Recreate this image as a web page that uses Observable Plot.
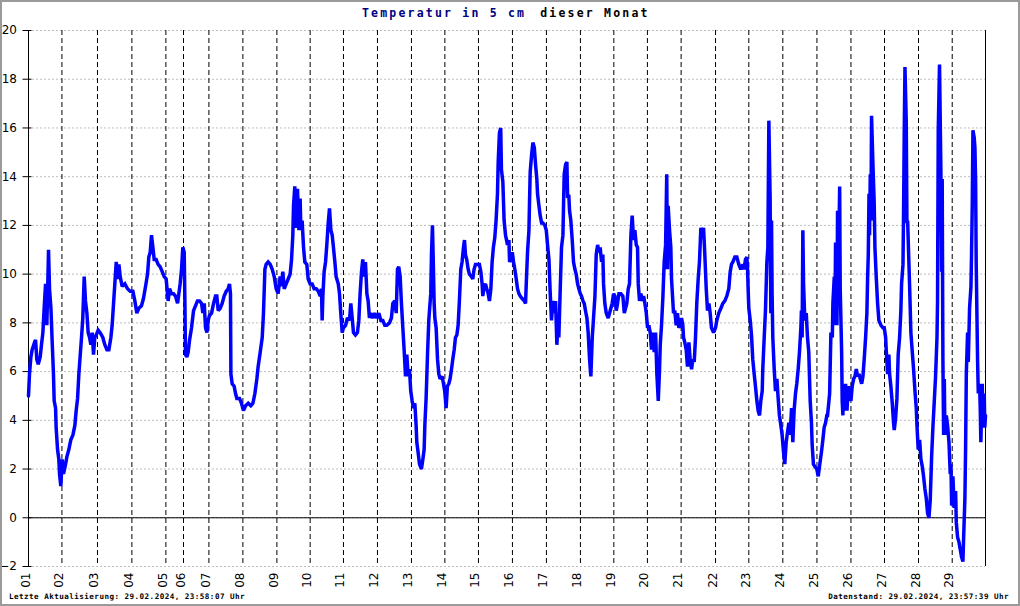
<!DOCTYPE html>
<html><head><meta charset="utf-8">
<script src="https://cdn.jsdelivr.net/npm/d3@7"></script>
<script src="https://cdn.jsdelivr.net/npm/@observablehq/plot@0.6"></script>
<style>
html,body{margin:0;padding:0;background:#fff;}
#wrap{position:relative;width:1020px;height:606px;overflow:hidden;background:#fff;}
#frame{position:absolute;left:0;top:0;width:1020px;height:606px;box-sizing:border-box;border:2px solid #9a9a9a;pointer-events:none;}
#title{position:absolute;left:362px;top:6px;font:bold 11.5px "DejaVu Sans Mono";letter-spacing:2.2px;white-space:pre;line-height:14px;color:#000;}
.foot{position:absolute;top:592px;font:bold 7.6px "DejaVu Sans Mono";letter-spacing:0.45px;white-space:pre;line-height:10px;color:#000;}
#chart svg{display:block;}
</style>
</head><body>
<div id="wrap">
  <div id="chart"></div>
  <div id="title"></div>
  <div class="foot" id="footL" style="left:9px"></div>
  <div class="foot" id="footR" style="right:11px"></div>
  <div id="frame"></div>
</div>
<script>
// ---- data ----
const titleMain = "Temperatur in 5 cm";
const titleSub = "dieser Monat";
const footerLeft = "Letzte Aktualisierung: 29.02.2024, 23:58:07 Uhr";
const footerRight = "Datenstand: 29.02.2024, 23:57:39 Uhr";

const dayLabels = ["01","02","03","04","05","06","07","08","09","10","11","12","13","14","15","16","17","18","19","20","21","22","23","24","25","26","27","28","29"];
// start of each day on the data-hour axis (day 5 and 6 have fewer readings)
const dayStarts = [0,23.7,48.9,73.3,97.4,109.9,127.9,152.0,176.1,199.7,223.3,247.4,271.5,295.2,319.0,343.1,367.2,391.3,415.0,438.8,462.7,487.1,510.7,534.8,559.0,583.1,606.9,631.0,654.9];
const endHour = 678.5;
const yTicks = [-2,0,2,4,6,8,10,12,14,16,18,20];

const hours = [
0.0,0.7,1.7,2.6,4.3,5.0,5.9,6.9,8.3,9.2,10.2,11.1,12.1,13.0,13.5,14.2,14.9,15.9,16.8,17.7,18.2,19.2,19.6,20.6,21.5,22.0,22.9,23.9,24.8,26.3,27.2,28.6,30.0,31.5,32.9,33.8,34.8,35.7,36.7,37.6,38.5,39.5,40.4,41.4,42.3,43.3,44.2,45.2,46.1,47.0,48.0,49.4,50.8,52.7,54.1,55.6,57.0,58.4,59.3,60.3,61.2,62.2,63.1,64.1,65.0,66.4,68.3,70.2,72.1,74.0,75.4,76.8,78.2,80.1,81.5,83.0,84.4,85.3,86.3,87.2,88.2,89.1,90.5,91.9,93.4,94.8,96.2,97.6,99.0,100.0,101.4,102.8,104.2,105.7,106.6,107.5,108.5,109.4,110.4,110.9,111.3,112.3,113.2,
114.2,115.6,117.0,118.4,119.8,121.3,122.7,123.6,124.6,125.5,126.5,127.4,128.3,129.8,131.2,132.6,133.5,134.5,135.9,137.3,138.7,140.2,141.6,142.5,143.2,143.5,144.4,145.8,146.8,147.7,149.6,151.0,152.4,153.9,155.8,157.6,159.1,160.5,161.9,162.8,164.3,165.7,166.6,167.6,168.5,169.9,171.4,172.8,174.2,175.6,177.0,178.4,179.4,180.3,181.3,182.7,184.1,185.5,186.5,187.4,187.9,188.8,189.8,190.7,191.7,192.6,193.1,194.0,195.0,195.9,197.3,198.3,199.7,201.1,202.5,204.0,205.4,206.8,207.7,208.2,208.7,209.6,210.6,211.5,212.5,213.4,214.4,215.3,216.2,217.2,218.1,219.6,220.5,221.4,222.4,223.3,224.8,
226.1,227.6,228.5,229.5,230.4,231.8,233.2,234.2,235.1,236.1,237.0,238.0,238.9,239.9,240.8,241.7,242.7,244.1,245.5,246.9,248.4,249.8,251.2,252.6,254.0,255.9,257.3,258.3,259.7,260.7,261.6,262.5,263.5,264.4,265.4,266.3,267.3,268.2,269.2,270.1,271.0,272.0,272.9,273.9,274.8,275.3,276.2,277.2,278.6,279.6,280.5,281.0,281.9,282.9,283.8,284.3,285.2,285.7,286.4,287.1,287.6,288.1,289.0,290.0,290.9,291.8,293.3,294.2,295.1,296.1,297.0,298.0,298.9,299.9,300.8,301.8,302.7,303.7,304.6,305.5,306.5,307.4,308.4,309.1,309.8,310.7,311.7,312.6,314.1,315.0,315.9,316.9,318.3,319.7,320.7,321.6,322.1,323.0,324.0,324.9,325.9,326.8,327.8,328.7,329.6,330.6,331.5,332.5,333.0,333.9,334.8,335.3,336.3,337.2,338.2,339.6,
340.6,341.1,342.0,343.0,343.9,344.8,345.8,346.7,347.7,348.6,350.0,351.5,352.4,352.9,353.8,354.8,355.2,355.7,356.7,357.6,358.6,359.5,360.4,360.9,361.9,362.8,363.8,364.7,366.1,367.1,368.0,369.0,369.9,370.8,371.8,372.7,373.7,374.6,375.6,376.0,377.0,377.9,378.9,379.8,380.8,381.7,382.2,383.1,383.6,384.5,385.5,386.4,387.4,388.3,389.3,390.2,391.2,392.1,393.1,394.0,394.9,395.9,396.8,397.8,398.7,399.7,400.6,401.6,402.5,403.5,404.4,405.3,406.3,407.2,407.7,408.6,409.6,411.0,412.4,413.8,414.8,415.7,416.7,417.6,418.6,420.0,421.4,422.4,423.3,424.2,425.2,426.1,427.1,428.0,429.0,429.9,430.9,431.8,432.3,433.2,434.2,435.1,436.1,437.0,438.0,438.9,439.8,440.8,441.7,442.7,443.6,444.6,445.5,446.5,447.4,447.9,448.8,449.8,450.7,451.7,452.5,
453.0,453.5,454.5,455.4,455.9,456.8,457.3,458.2,459.2,460.1,461.1,462.0,463.0,463.9,464.4,465.3,466.3,467.2,468.2,469.1,470.1,471.0,472.0,472.9,473.8,474.8,475.7,476.7,477.6,478.6,479.5,480.5,481.4,482.4,483.3,484.2,485.7,487.1,488.0,489.4,490.9,492.3,493.7,495.1,496.5,497.5,498.4,499.4,500.8,502.2,503.6,505.0,506.5,507.4,508.3,509.3,509.8,510.2,510.7,511.7,512.6,513.5,514.5,515.4,516.4,517.3,518.3,519.2,520.2,520.6,521.6,522.5,523.5,524.2,524.9,525.8,526.3,526.8,527.2,527.7,528.7,529.6,530.6,531.5,532.4,533.4,534.3,535.3,536.2,537.2,538.1,539.1,540.0,541.0,541.9,542.8,543.8,544.7,545.7,546.6,547.6,548.0,548.5,549.0,549.5,550.4,551.4,552.3,553.2,554.2,555.1,555.6,556.5,557.5,558.9,559.9,560.8,562.2,563.2,564.1,565.1,566.0,
566.5,567.5,568.0,568.9,569.9,570.3,571.3,571.7,572.2,573.2,573.6,574.1,575.1,575.5,576.5,576.9,577.4,577.9,578.4,579.3,580.3,581.2,582.1,583.1,584.0,585.0,585.9,586.9,587.8,588.8,589.7,590.7,591.6,592.5,593.5,594.4,594.9,595.4,595.9,596.3,596.8,597.3,597.7,598.7,599.6,600.1,601.1,602.0,602.9,604.4,605.8,606.7,607.7,608.1,608.6,609.1,610.0,610.5,611.4,612.4,613.3,613.8,614.8,615.7,616.6,617.6,618.5,619.0,620.0,620.4,620.9,621.4,622.3,622.8,623.3,623.7,624.7,625.6,626.6,627.5,628.5,629.4,629.9,630.8,631.8,632.7,633.7,634.6,635.5,636.5,637.4,638.4,639.3,640.3,641.2,642.2,643.1,644.1,644.5,645.0,645.9,646.9,647.4,647.8,648.3,648.8,649.3,649.7,650.7,651.6,652.6,653.5,654.0,654.5,655.4,656.3,657.3,657.8,658.7,659.7,660.6,661.5,662.5,663.0,663.9,664.4,664.9,665.8,666.3,667.2,668.2,668.6,669.1,669.6,670.5,671.0,671.5,671.9,672.9,673.4,674.3,674.8,675.2,676.2,676.7,677.6,678.0,678.5
];
const temps = [
5.0,5.9,6.6,6.9,7.2,7.3,6.5,6.3,6.6,7.1,7.6,8.6,9.6,7.9,9.1,11.0,9.4,8.6,7.2,5.9,4.8,4.5,3.7,2.8,2.4,1.8,1.3,2.4,1.8,2.2,2.5,2.8,3.2,3.4,3.8,4.4,4.9,5.9,6.7,7.4,8.2,9.9,8.9,8.4,7.6,7.4,7.1,7.6,6.7,7.4,7.5,7.7,7.6,7.4,7.1,6.9,6.9,7.4,7.9,8.8,9.6,10.5,9.8,10.4,9.9,9.5,9.6,9.4,9.3,9.3,8.9,8.4,8.6,8.7,9.0,9.5,10.0,10.7,10.9,11.6,11.1,10.6,10.6,10.4,10.3,10.1,9.9,9.8,8.9,9.4,9.2,9.2,9.1,8.8,9.2,9.6,10.2,11.1,10.9,8.8,6.7,6.6,6.8,
7.3,7.8,8.5,8.7,8.9,8.9,8.8,8.4,8.8,7.8,7.6,8.1,8.3,8.4,8.8,9.1,9.1,8.5,8.6,8.8,9.1,9.3,9.4,9.6,9.2,5.9,5.5,5.4,5.1,4.9,4.9,4.7,4.4,4.6,4.7,4.6,4.7,5.1,5.7,6.2,6.8,7.4,8.4,10.2,10.4,10.5,10.4,10.2,9.9,9.4,9.2,9.9,9.5,10.1,9.4,9.6,9.8,10.0,10.6,11.6,12.8,13.6,11.9,13.5,11.8,13.1,11.8,12.2,11.1,10.5,10.4,9.8,9.6,9.6,9.4,9.4,9.3,9.1,9.4,8.1,9.1,10.1,10.5,11.2,12.1,12.7,11.8,11.6,11.1,10.5,9.9,9.6,9.2,8.4,7.6,7.8,7.9,
8.2,8.1,8.8,8.2,7.6,7.5,7.6,8.1,9.2,10.1,10.6,9.9,10.5,9.2,8.9,8.2,8.4,8.2,8.4,8.2,8.4,8.1,8.1,7.9,7.9,8.0,8.2,8.8,8.9,8.4,10.2,10.3,9.9,8.8,7.8,6.9,5.8,6.7,5.8,6.1,5.2,4.8,4.5,4.7,3.8,3.1,2.7,2.2,2.0,2.4,2.8,3.8,4.9,6.7,8.1,8.5,9.2,10.8,12.0,10.2,8.8,8.2,7.8,6.5,5.9,5.7,5.8,5.5,5.2,4.5,5.4,5.5,5.7,6.1,6.5,6.9,7.4,7.5,7.9,8.9,10.2,10.5,11.1,11.4,10.8,10.6,10.2,10.0,9.9,9.8,10.2,10.4,10.4,10.4,10.1,9.6,9.1,9.5,9.6,9.4,9.2,8.9,9.4,10.5,11.1,11.5,12.2,13.3,14.6,15.8,16.0,14.3,13.8,12.2,11.6,11.2,
11.4,10.5,10.6,10.9,10.5,10.2,9.8,9.4,9.2,9.1,9.0,8.9,8.8,9.6,10.9,11.8,12.9,14.2,14.9,15.4,15.2,14.5,13.9,13.3,12.8,12.4,12.1,12.1,12.0,11.8,11.2,10.6,9.2,8.1,8.9,8.4,8.9,7.1,8.1,7.4,9.4,11.1,11.6,14.1,14.5,14.6,13.2,13.2,12.6,12.2,11.4,10.5,10.2,10.0,9.6,9.4,9.2,9.1,8.9,8.8,8.5,8.2,7.6,6.5,5.8,7.4,8.2,9.1,10.8,11.2,10.9,11.1,10.5,10.8,9.6,8.8,8.4,8.2,8.5,8.8,9.2,9.1,8.5,8.8,9.2,9.2,9.1,8.4,8.6,8.8,9.4,9.6,11.6,12.4,11.4,11.8,11.2,11.1,9.6,8.9,9.2,8.9,9.1,8.8,8.4,7.8,7.9,7.6,6.9,7.6,6.8,7.6,5.9,4.8,6.1,7.1,7.9,9.1,10.5,11.2,14.1,
10.2,12.8,11.8,11.1,9.8,8.9,8.4,8.5,7.9,8.4,7.8,7.9,8.2,7.9,7.4,7.2,6.9,6.2,7.2,6.5,6.1,6.5,6.4,7.4,8.8,9.8,10.5,11.9,11.6,11.9,10.8,9.4,8.5,8.8,8.4,7.8,7.6,7.8,8.1,8.4,8.6,8.8,8.9,9.1,9.4,10.1,10.4,10.5,10.7,10.7,10.4,10.2,10.4,10.2,10.6,10.7,10.2,9.4,8.6,8.1,7.5,6.5,5.9,5.4,4.8,4.4,4.2,4.8,5.2,6.1,7.4,8.5,10.5,11.1,16.3,13.1,8.4,12.2,9.2,7.4,6.1,5.2,5.7,4.9,4.2,3.8,3.4,2.7,2.2,3.1,3.5,3.9,3.4,4.5,3.1,4.4,5.1,5.5,6.1,6.8,7.8,8.5,7.4,11.8,9.6,8.1,8.4,7.4,6.8,4.8,3.9,3.0,2.2,2.1,2.0,1.7,2.1,2.7,3.2,3.7,3.9,4.2,
4.2,4.8,5.1,7.6,7.4,8.8,9.9,7.9,11.3,7.9,12.6,9.5,13.6,9.4,6.8,4.8,4.2,5.4,4.4,5.5,4.4,5.4,5.1,4.8,5.4,5.7,5.8,6.1,5.8,5.9,5.7,5.5,5.8,6.5,7.4,8.4,9.8,10.8,13.3,11.6,14.1,12.2,16.5,14.5,12.9,11.1,9.8,8.8,8.1,7.9,7.8,7.8,7.4,6.9,6.4,5.9,6.7,5.9,5.4,4.7,3.9,3.6,4.1,4.9,6.7,7.4,8.5,9.6,10.4,12.5,15.9,18.5,16.3,12.1,12.2,11.4,9.5,7.6,6.8,6.1,5.2,4.5,3.8,2.8,3.2,2.4,2.1,1.7,1.2,0.8,0.2,0.0,0.7,2.5,3.7,4.8,5.8,7.4,8.9,15.9,18.6,14.1,10.1,13.9,6.5,3.4,5.7,3.4,4.2,3.8,3.1,1.8,2.2,0.5,1.7,0.4,1.1,-0.2,-0.8,-1.0,-1.3,-1.6,-1.8,-0.8,0.8,2.9,5.9,7.6,6.4,8.6,9.5,10.8,12.8,15.9,15.6,15.2,13.8,10.5,6.4,5.1,5.5,4.4,3.1,5.5,3.7,5.1,3.7,4.2
];

const series = hours.map((h, i) => ({h, t: temps[i]}));
const days = dayStarts.map((s, i) => ({s, label: dayLabels[i]}));

const font = "DejaVu Sans";
const chart = Plot.plot({
  width: 1020,
  height: 606,
  marginTop: 30,
  marginBottom: 40,
  marginLeft: 28,
  marginRight: 35,
  style: {background: "white", color: "black", fontFamily: font},
  x: {domain: [0, endHour], axis: null},
  y: {domain: [-2, 20]},
  marks: [
    Plot.ruleY(yTicks, {stroke: "#bdbdbd", strokeDasharray: "2,2"}),
    Plot.ruleX(dayStarts.slice(1), {stroke: "black", strokeDasharray: "5,3"}),
    Plot.ruleY([0], {stroke: "black"}),
    Plot.ruleX([0, endHour], {stroke: "black"}),
    Plot.axisY({ticks: yTicks, tickSize: 9, dx: 3.5, tickPadding: 6, fontSize: 12, fontFamily: font, label: null, stroke: "black", fill: "black"}),
    Plot.text(days, {x: "s", frameAnchor: "bottom", text: "label", rotate: -90, textAnchor: "end", dy: 6, dx: 1, fontSize: 12, fontFamily: font, fill: "black"}),
    Plot.line(series, {x: "h", y: "t", stroke: "#0000ff", strokeWidth: 3.5, strokeLinejoin: "miter", strokeMiterlimit: 2})
  ]
});
document.getElementById("chart").appendChild(chart);

document.getElementById("title").innerHTML =
  '<span style="color:#000080">' + titleMain + '</span><span style="margin-left:14px">' + titleSub + '</span>';
document.getElementById("footL").textContent = footerLeft;
document.getElementById("footR").textContent = footerRight;
</script>
</body></html>
